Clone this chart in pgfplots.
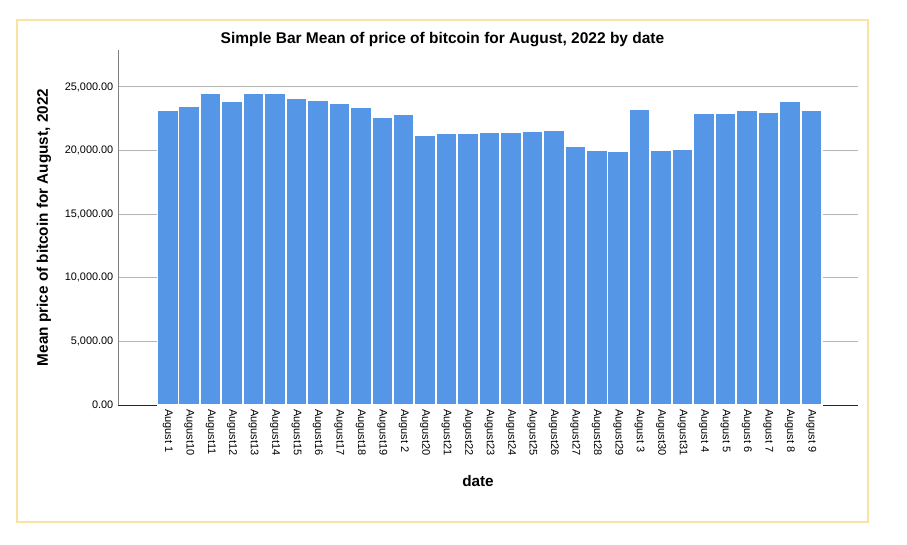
\documentclass[border=0pt]{standalone}
\usepackage{pgfplots}
\pgfplotsset{compat=1.18}
\usepackage{fontspec}
\setmainfont{Liberation Sans}
\definecolor{barblue}{RGB}{85,150,230}
\definecolor{frameyellow}{RGB}{248,228,160}
\definecolor{gridgray}{RGB}{180,180,180}
\begin{document}
\begin{tikzpicture}
\path[use as bounding box] (0pt,0pt) rectangle (907pt,544pt);
\fill[white] (0pt,0pt) rectangle (907pt,544pt);
\draw[frameyellow, line width=1.8pt] (17pt,22pt) rectangle (868pt,524pt);
\node[font=\bfseries\fontsize{15.5}{17}\selectfont] at (442.5pt,504pt) {Simple Bar Mean of price of bitcoin for August, 2022 by date};
\begin{axis}[
  at={(118pt,139pt)}, anchor=south west,
  scale only axis, width=740pt, height=355pt,
  xmin=-2.32, xmax=32.18, ymin=0, ymax=27900,
  axis x line=bottom, axis y line=left,
  axis line style={-},
  x axis line style={black!85},
  y axis line style={black!50},
  ytick={0,5000,10000,15000,20000,25000},
  scaled y ticks=false,
  ymajorgrids, grid style={gridgray, line width=0.8pt},
  major tick length=0pt,
  xtick={0,...,30},
  xticklabels={August 1,August10,August11,August12,August13,August14,August15,August16,August17,August18,August19,August 2,August20,August21,August22,August23,August24,August25,August26,August27,August28,August29,August 3,August30,August31,August 4,August 5,August 6,August 7,August 8,August 9},
  xticklabel style={rotate=-90, anchor=west, font=\fontsize{11}{13}\selectfont, inner sep=4pt},
  yticklabel style={font=\fontsize{10.9}{13}\selectfont, inner sep=4.5pt},
  /pgf/number format/.cd, fixed, fixed zerofill, precision=2, 1000 sep={,}, assume math mode=true,
  /pgfplots/.cd,
  xlabel={date}, ylabel={Mean price of bitcoin for August, 2022},
  xlabel style={font=\bfseries\fontsize{15.3}{17}\selectfont, at={(axis description cs:0.4865,-0.214)}, anchor=center},
  ylabel style={font=\bfseries\fontsize{15.3}{17}\selectfont, at={(axis description cs:-0.1,0.5)}, anchor=center, rotate=0},
  clip=false,
]
\addplot[ybar, bar width=21pt, fill=barblue, draw=white, line width=1.5pt] coordinates {
(0,23203) (1,23461) (2,24479) (3,23880) (4,24505) (5,24531) (6,24141) (7,23984) (8,23750) (9,23385)
(10,22578) (11,22813) (12,21172) (13,21354) (14,21354) (15,21458) (16,21406) (17,21510) (18,21563) (19,20339)
(20,20000) (21,19948) (22,23229) (23,20000) (24,20130) (25,22943) (26,22943) (27,23177) (28,22969) (29,23906)
(30,23177)};
\end{axis}
\end{tikzpicture}
\end{document}
